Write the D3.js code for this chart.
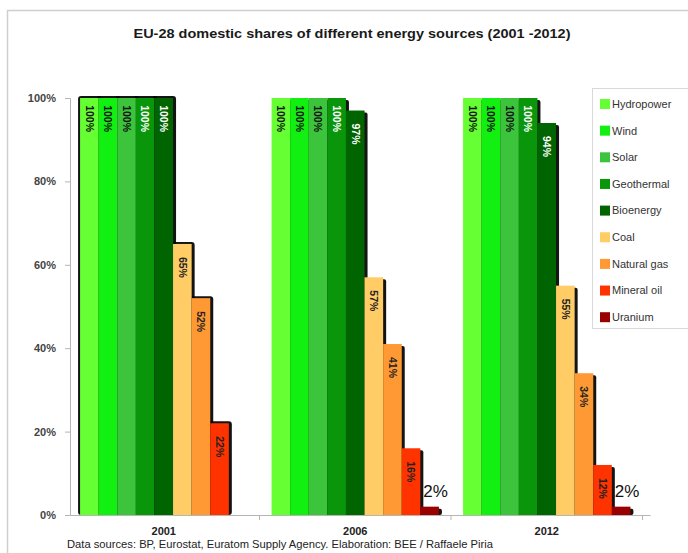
<!DOCTYPE html>
<html>
<head>
<meta charset="utf-8">
<script src="https://cdn.jsdelivr.net/npm/d3@7"></script>
<style>
  html, body { margin: 0; padding: 0; background: #ffffff; }
  svg { display: block; }
  text { font-family: "Liberation Sans", "DejaVu Sans", sans-serif; }
</style>
</head>
<body>
<svg id="chart" width="688" height="553"></svg>
<script>
// ---- Data ----
const years = ["2001", "2006", "2012"];
const sources = ["Hydropower", "Wind", "Solar", "Geothermal", "Bioenergy", "Coal", "Natural gas", "Mineral oil", "Uranium"];
const colors = ["#66ff33", "#11f011", "#3cc43c", "#0a960a", "#006400", "#ffcc66", "#ff9933", "#ff3300", "#990000"];
const labelColors = ["#111", "#111", "#111", "#fff", "#fff", "#222", "#222", "#222", "#222"];
const hydropower = [100, 100, 100];
const wind = [100, 100, 100];
const solar = [100, 100, 100];
const geothermal = [100, 100, 100];
const bioenergy = [100, 97, 94];
const coal = [65, 57, 55];
const naturalGas = [52, 41, 34];
const mineralOil = [22, 16, 12];
const uranium = [0, 2, 2];
const seriesValues = [hydropower, wind, solar, geothermal, bioenergy, coal, naturalGas, mineralOil, uranium];
const yTicks = [0, 20, 40, 60, 80, 100];
const titleText = "EU-28 domestic shares of different energy sources (2001 -2012)";
const footerText = "Data sources: BP, Eurostat, Euratom Supply Agency. Elaboration: BEE / Raffaele Piria";

// ---- Layout ----
const svg = d3.select("#chart");
const plot = { left: 68, right: 642.5, top: 98, bottom: 515 };

// frame
svg.append("path")
  .attr("d", "M7.5,553 L7.5,10.5 L688,10.5")
  .attr("fill", "none").attr("stroke", "#cfcfcf").attr("stroke-width", 1.5);

// title
svg.append("text")
  .attr("x", 352).attr("y", 38)
  .attr("font-size", 13.5).attr("font-weight", "bold").attr("fill", "#1a1a1a")
  .attr("text-anchor", "middle")
  .attr("textLength", 437).attr("lengthAdjust", "spacingAndGlyphs")
  .text(titleText);

const x0 = d3.scaleBand().domain(years).range([plot.left, plot.right])
  .paddingInner(0.126).paddingOuter(0.063);
const x1 = d3.scaleBand().domain(sources).range([0, x0.bandwidth()]);
const y = d3.scaleLinear().domain([0, 100]).range([plot.bottom, plot.top]);

// y axis
const yAxis = svg.append("g").attr("transform", `translate(${70},0)`)
  .call(d3.axisLeft(y).tickValues(yTicks).tickFormat(d => d + "%").tickSize(5).tickPadding(9));
yAxis.select(".domain").attr("stroke", "#b5b5b5");
yAxis.selectAll(".tick line").attr("stroke", "#b5b5b5");
yAxis.selectAll(".tick text").attr("font-size", 11).attr("font-weight", "bold").attr("fill", "#444")
  .attr("font-family", "Liberation Sans, sans-serif");

// bars
const groups = svg.append("g").selectAll("g").data(years).join("g")
  .attr("transform", d => `translate(${x0(d)},0)`);

years.forEach((yr, yi) => {
  const g = groups.filter(d => d === yr);
  const outline = yi === 0; // 2001 group has a surrounding dark glow
  const shadowLayer = g.append("g");
  const barLayer = g.append("g");
  const labelLayer = g.append("g");
  sources.forEach((s, si) => {
    const v = seriesValues[si][yi];
    if (!v) return;
    const bx = x1(s), bw = x1.bandwidth();
    const top = y(v);
    if (outline) {
      shadowLayer.append("rect")
        .attr("x", bx - 2).attr("y", top - 2)
        .attr("width", bw + 5).attr("height", plot.bottom - top + 2)
        .attr("rx", 3).attr("fill", "#000").attr("opacity", 0.92);
    } else {
      shadowLayer.append("rect")
        .attr("x", bx + 3).attr("y", top + 2)
        .attr("width", bw).attr("height", plot.bottom - top - 2)
        .attr("rx", 2).attr("fill", "#000").attr("opacity", 0.92);
    }
    barLayer.append("rect")
      .attr("x", bx).attr("y", top)
      .attr("width", bw).attr("height", plot.bottom - top)
      .attr("fill", colors[si]);
    if (s === "Uranium") {
      labelLayer.append("text")
        .attr("x", bx + 3).attr("y", top - 10)
        .attr("font-size", 17).attr("fill", "#111")
        .text(v + "%");
    } else {
      const cx = bx + bw / 2, ty = top + 34;
      labelLayer.append("text")
        .attr("transform", `translate(${cx},${ty}) rotate(90)`)
        .attr("text-anchor", "end").attr("dy", "0.35em")
        .attr("font-size", 10.5).attr("font-weight", "bold")
        .attr("fill", labelColors[si])
        .text(v + "%");
    }
  });
});

// x axis
const xAxis = svg.append("g").attr("transform", `translate(0,${plot.bottom})`)
  .call(d3.axisBottom(x0).tickSize(0).tickPadding(12));
xAxis.select(".domain").attr("stroke", "#b5b5b5").attr("d", `M70,0.5 H${plot.right + 8}`);
xAxis.selectAll(".tick text").attr("font-size", 11).attr("font-weight", "bold").attr("fill", "#222")
  .attr("font-family", "Liberation Sans, sans-serif");
// category boundary ticks
const bounds = [0, 1, 2].map(i => plot.left + i * x0.step());
bounds.push(plot.right);
svg.append("g").selectAll("line").data(bounds.slice(1)).join("line")
  .attr("x1", d => d).attr("x2", d => d)
  .attr("y1", plot.bottom).attr("y2", plot.bottom + 5)
  .attr("stroke", "#b5b5b5");

// footer
svg.append("text")
  .attr("x", 67).attr("y", 548)
  .attr("font-size", 10.5).attr("fill", "#222")
  .attr("textLength", 426).attr("lengthAdjust", "spacingAndGlyphs")
  .text(footerText);

// legend
const legend = svg.append("g");
legend.append("rect")
  .attr("x", 592.5).attr("y", 88.5).attr("width", 110).attr("height", 240)
  .attr("fill", "#fff").attr("stroke", "#d9d9d9");
const leg = legend.selectAll("g").data(sources).join("g")
  .attr("transform", (d, i) => `translate(600,${104 + i * 26.65})`);
leg.append("rect").attr("x", 0).attr("y", -5).attr("width", 10).attr("height", 10)
  .attr("fill", (d, i) => colors[i]);
leg.append("text").attr("x", 12).attr("y", 0).attr("dy", "0.35em")
  .attr("font-size", 11).attr("fill", "#333")
  .text(d => d);
</script>
</body>
</html>
